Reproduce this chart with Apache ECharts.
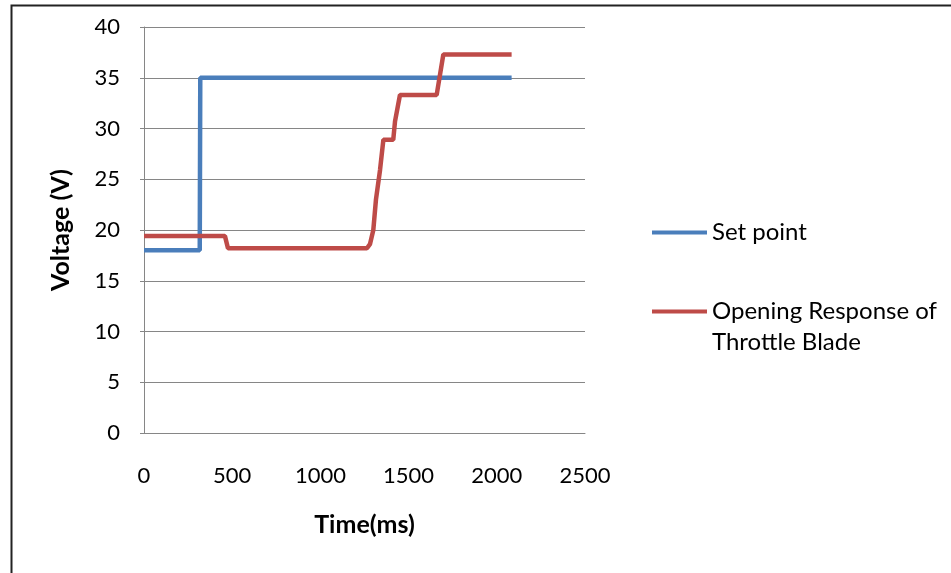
<!DOCTYPE html>
<html>
<head>
<meta charset="utf-8">
<script src="https://cdn.jsdelivr.net/npm/echarts@6/dist/echarts.min.js"></script>
<style>html,body{margin:0;padding:0;background:#fff;}#c{width:951px;height:573px;}</style>
</head>
<body>
<div id="c"></div>
<script>
// Data (time in ms, voltage in V)
const setPointTime = [0, 316, 319, 2084];
const setPointVolt = [18.0, 18.0, 35.0, 35.0];
const responseTime = [0, 459, 476, 1264, 1281, 1300, 1315, 1338, 1357, 1413, 1423, 1451, 1659, 1697, 2084];
const responseVolt = [19.4, 19.4, 18.2, 18.2, 18.6, 20.0, 23.0, 25.9, 28.9, 28.9, 30.7, 33.3, 33.3, 37.3, 37.3];
const xTicks = [0, 500, 1000, 1500, 2000, 2500];
const yTicks = [0, 5, 10, 15, 20, 25, 30, 35, 40];
const seriesNames = ['Set point', 'Opening Response of Throttle Blade'];

const zip = (a, b) => a.map((v, i) => [v, b[i]]);
const FONT = 'Lato';
const FS = 22;

const chart = echarts.init(document.getElementById('c'), null, {renderer: 'canvas'});
chart.setOption({
  animation: false,
  backgroundColor: '#fff',
  grid: {left: 144, right: 366, top: 27, bottom: 140},
  graphic: [{
    type: 'rect', left: 9, top: 3, z: 100,
    shape: {x: 0, y: 0, width: 1000, height: 1000},
    style: {fill: 'none', stroke: '#222', lineWidth: 2}
  }],
  legend: {
    orient: 'vertical',
    left: 652, top: 217,
    padding: 0,
    itemGap: 17,
    itemWidth: 55, itemHeight: 4,
    icon: 'rect',
    textStyle: {fontFamily: FONT, fontSize: 24, color: '#000', lineHeight: 31},
    formatter: function (name) {
      return name === seriesNames[1] ? '\nOpening Response of\nThrottle Blade' : name;
    },
    data: seriesNames
  },
  xAxis: {
    type: 'value', min: xTicks[0], max: xTicks[xTicks.length - 1], interval: 500,
    name: 'Time(ms)', nameLocation: 'middle', nameGap: 79,
    nameTextStyle: {fontFamily: FONT, fontSize: 25, fontWeight: 'bold', color: '#000'},
    axisLine: {show: true, lineStyle: {color: '#868686', width: 1}},
    axisTick: {show: false},
    splitLine: {show: false},
    axisLabel: {fontFamily: FONT, fontSize: FS, color: '#000', margin: 32,
      formatter: function (v) { return String(v); }},
    axisPointer: {show: false}
  },
  yAxis: {
    type: 'value', min: yTicks[0], max: yTicks[yTicks.length - 1], interval: 5,
    name: 'Voltage (V)', nameLocation: 'middle', nameGap: 71, nameRotate: 90,
    nameTextStyle: {fontFamily: FONT, fontSize: 25, fontWeight: 'bold', color: '#000'},
    axisLine: {show: true, lineStyle: {color: '#868686', width: 1}},
    axisTick: {show: true, length: 4, lineStyle: {color: '#868686'}},
    splitLine: {show: true, lineStyle: {color: '#868686', width: 1}},
    axisLabel: {fontFamily: FONT, fontSize: FS, color: '#000', margin: 24,
      formatter: function (v) { return String(v); }}
  },
  series: [
    {
      name: seriesNames[0], type: 'line', showSymbol: false, symbol: 'none',
      data: zip(setPointTime, setPointVolt),
      lineStyle: {color: '#4a7ebb', width: 4.5},
      itemStyle: {color: '#4a7ebb'}
    },
    {
      name: seriesNames[1], type: 'line', showSymbol: false, symbol: 'none',
      data: zip(responseTime, responseVolt),
      lineStyle: {color: '#be4b48', width: 4.5},
      itemStyle: {color: '#be4b48'}
    }
  ]
});
</script>
</body>
</html>
